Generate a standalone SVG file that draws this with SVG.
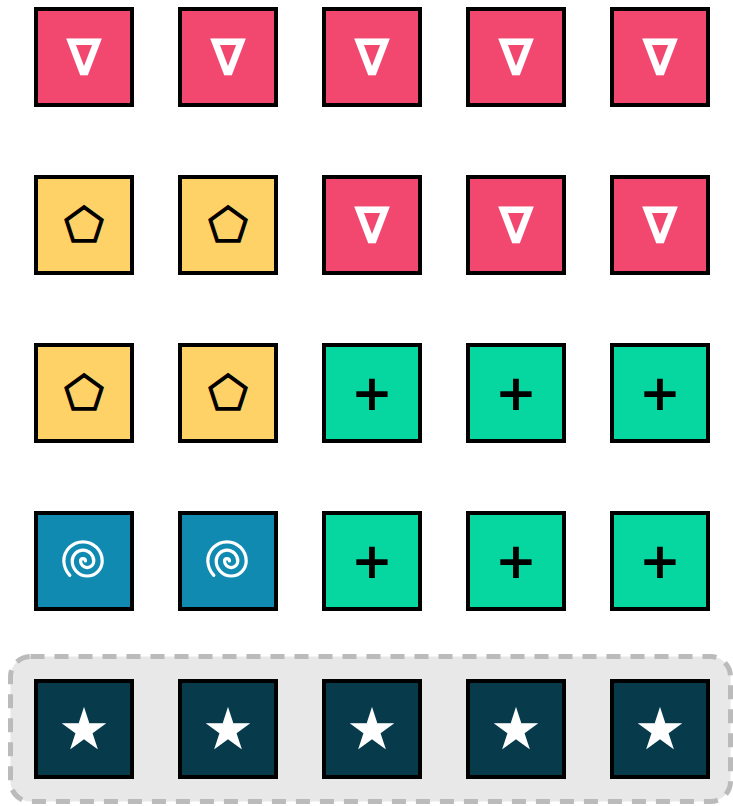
<svg xmlns="http://www.w3.org/2000/svg" width="733" height="806" viewBox="0 0 733 806">
<style>
.c{stroke:#000;stroke-width:4}
.r{fill:#f24870}.y{fill:#fed267}.g{fill:#06d6a0}.b{fill:#118ab2}.d{fill:#073b4c}
.t{font-family:"DejaVu Sans",sans-serif;text-anchor:middle;dominant-baseline:central}
.nab{fill:#fff;font-size:51px;font-weight:bold}
.pen{fill:#000;font-size:46px;stroke:#000;stroke-width:1.2}
.plus{fill:#000;font-size:50px;font-weight:bold}
.star{fill:#fff;font-size:58px}
.sp{fill:none;stroke:#fff;stroke-width:2.7;stroke-linecap:round}
</style>
<defs>
<path id="spiral" class="sp" d="M2,0 a2,2 0 1,0 -4,0 a5.5,5.5 0 0,0 11,0 a9,9 0 0,0 -18,0 a12.5,12.5 0 0,0 25,0 a16,16 0 0,0 -32,0 a19,19 0 0,0 5,12"/>
</defs>
<rect x="10.5" y="656.5" width="720" height="145" rx="20" fill="#e8e8e8" stroke="#bbb" stroke-width="5" stroke-dasharray="14 10"/>
<g id="n11"><rect class="c r" x="36" y="9" width="96" height="96"/><text class="t nab" x="84" y="57">∇</text></g>
<g id="n12"><rect class="c r" x="180" y="9" width="96" height="96"/><text class="t nab" x="228" y="57">∇</text></g>
<g id="n13"><rect class="c r" x="324" y="9" width="96" height="96"/><text class="t nab" x="372" y="57">∇</text></g>
<g id="n14"><rect class="c r" x="468" y="9" width="96" height="96"/><text class="t nab" x="516" y="57">∇</text></g>
<g id="n15"><rect class="c r" x="612" y="9" width="96" height="96"/><text class="t nab" x="660" y="57">∇</text></g>
<g id="n21"><rect class="c y" x="36" y="177" width="96" height="96"/><text class="t pen" x="84" y="225">⬠</text></g>
<g id="n22"><rect class="c y" x="180" y="177" width="96" height="96"/><text class="t pen" x="228" y="225">⬠</text></g>
<g id="n23"><rect class="c r" x="324" y="177" width="96" height="96"/><text class="t nab" x="372" y="225">∇</text></g>
<g id="n24"><rect class="c r" x="468" y="177" width="96" height="96"/><text class="t nab" x="516" y="225">∇</text></g>
<g id="n25"><rect class="c r" x="612" y="177" width="96" height="96"/><text class="t nab" x="660" y="225">∇</text></g>
<g id="n31"><rect class="c y" x="36" y="345" width="96" height="96"/><text class="t pen" x="84" y="393">⬠</text></g>
<g id="n32"><rect class="c y" x="180" y="345" width="96" height="96"/><text class="t pen" x="228" y="393">⬠</text></g>
<g id="n33"><rect class="c g" x="324" y="345" width="96" height="96"/><text class="t plus" x="372" y="393">+</text></g>
<g id="n34"><rect class="c g" x="468" y="345" width="96" height="96"/><text class="t plus" x="516" y="393">+</text></g>
<g id="n35"><rect class="c g" x="612" y="345" width="96" height="96"/><text class="t plus" x="660" y="393">+</text></g>
<g id="n41"><rect class="c b" x="36" y="513" width="96" height="96"/><use href="#spiral" transform="translate(83 561) scale(1.2)"/></g>
<g id="n42"><rect class="c b" x="180" y="513" width="96" height="96"/><use href="#spiral" transform="translate(227 561) scale(1.2)"/></g>
<g id="n43"><rect class="c g" x="324" y="513" width="96" height="96"/><text class="t plus" x="372" y="561">+</text></g>
<g id="n44"><rect class="c g" x="468" y="513" width="96" height="96"/><text class="t plus" x="516" y="561">+</text></g>
<g id="n45"><rect class="c g" x="612" y="513" width="96" height="96"/><text class="t plus" x="660" y="561">+</text></g>
<g id="n51"><rect class="c d" x="36" y="681" width="96" height="96"/><text class="t star" x="84" y="729">★</text></g>
<g id="n52"><rect class="c d" x="180" y="681" width="96" height="96"/><text class="t star" x="228" y="729">★</text></g>
<g id="n53"><rect class="c d" x="324" y="681" width="96" height="96"/><text class="t star" x="372" y="729">★</text></g>
<g id="n54"><rect class="c d" x="468" y="681" width="96" height="96"/><text class="t star" x="516" y="729">★</text></g>
<g id="n55"><rect class="c d" x="612" y="681" width="96" height="96"/><text class="t star" x="660" y="729">★</text></g>
<g id="connectors"/>
</svg>
